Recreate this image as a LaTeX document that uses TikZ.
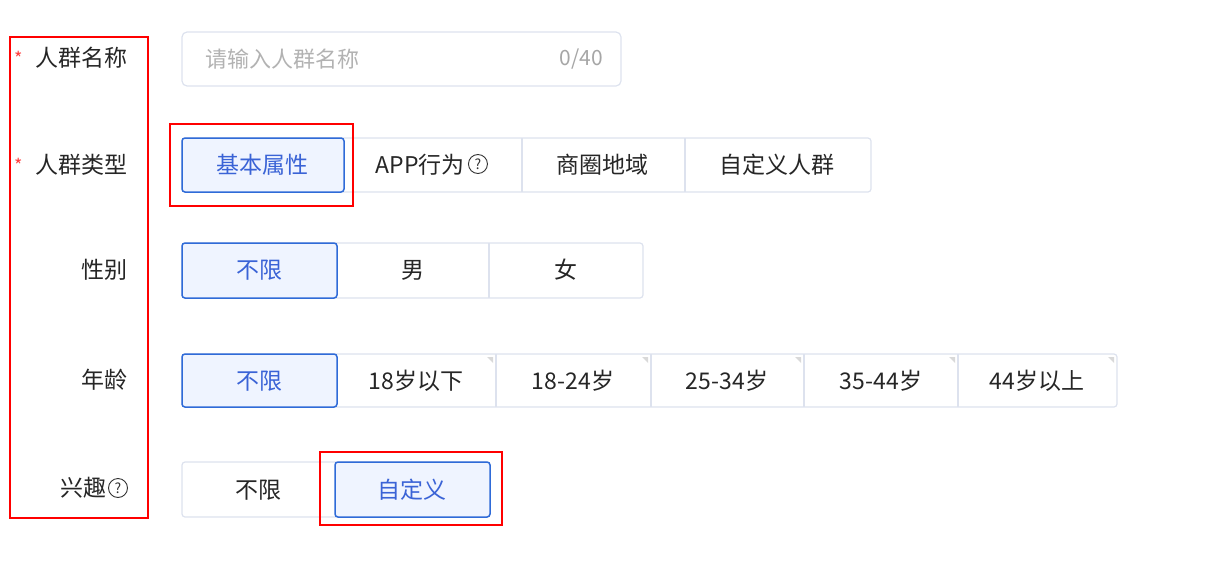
\documentclass[tikz,border=0pt]{standalone}
\usepackage{fontspec}
\setmainfont{Noto Sans CJK SC}
\definecolor{selb}{HTML}{2F6BD8}
\definecolor{selt}{HTML}{3A63D6}
\definecolor{self}{HTML}{EFF4FF}
\definecolor{bord}{HTML}{DDE2EE}
\begin{document}
\begin{tikzpicture}[x=1pt,y=-1pt,
  lab/.style={anchor=east,font=\fontsize{23}{24}\selectfont,text=black!85,inner sep=0pt},
  btn/.style={draw=bord,line width=1.2pt,fill=white},
  sel/.style={draw=selb,line width=1.5pt,fill=self,rounded corners=3pt},
  bt/.style={font=\fontsize{23}{24}\selectfont,text=black!85},
  st/.style={font=\fontsize{23}{24}\selectfont,text=selt},
  hl/.style={draw=red,line width=2.5pt},
  q/.style={circle,draw=black!80,line width=0.9pt,inner sep=0pt,minimum size=19pt,font=\fontsize{14}{14}\selectfont,text=black!80},
  tri/.style={fill=gray!30}]
\useasboundingbox (0,0) rectangle (1213,562);
% left labels
\node[lab] (l1) at (128,58) {人群名称};
\node[lab] (l2) at (128,165) {人群类型};
\node[lab] (l3) at (128,270) {性别};
\node[lab] (l4) at (128,380) {年龄};
\node[q] (q2) at (118,488) {?};
\node[lab] (l5) at ([xshift=-1pt]q2.west) {兴趣};
\node[text=red!75,font=\fontsize{18}{18}\selectfont] (s1) at (19,58) {*};
\node[text=red!75,font=\fontsize{18}{18}\selectfont] (s2) at (19,165) {*};
% input
\draw[draw=bord,line width=1.2pt,rounded corners=5pt] (182,32) rectangle (621,86);
\node[anchor=west,font=\fontsize{22}{24}\selectfont,text=gray!60,inner sep=0pt] (ph) at (205,59) {请输入人群名称};
\node[anchor=east,font=\fontsize{21}{24}\selectfont,text=gray!70,inner sep=0pt] (cnt) at (603,59) {0/40};
% type row
\draw[btn,rounded corners=3pt] (182,138) rectangle (871,192);
\foreach \x in {522,685} \draw[bord,line width=1.2pt] (\x,138) -- (\x,192);
\draw[sel] (182,138) rectangle (344,192);
\node[st] (t1) at (262,165) {基本属性};
\node[bt,anchor=east,inner sep=0pt] (t2) at (465,165) {APP行为};
\node[q,anchor=west] (q1) at (468,164) {?};
\node[bt] (t3) at (602,165) {商圈地域};
\node[bt] (t4) at (777,165) {自定义人群};
% gender
\draw[btn,rounded corners=3pt] (182,243) rectangle (643,298);
\draw[bord,line width=1.2pt] (489,243) -- (489,298);
\draw[sel] (182,243) rectangle (337,298);
\node[st] (g1) at (259,270) {不限};
\node[bt] (g2) at (413,270) {男};
\node[bt] (g3) at (566,270) {女};
% age
\draw[btn,rounded corners=3pt] (182,354) rectangle (1117,407);
\foreach \x in {496,651,804,958} \draw[bord,line width=1.2pt] (\x,354) -- (\x,407);
\foreach \x in {496,651,804,958,1117} \fill[tri] (\x-3,357) -- (\x-9,357) -- (\x-3,363) -- cycle;
\draw[sel] (182,354) rectangle (337,407);
\node[st] (a1) at (259,381) {不限};
\node[bt] (a2) at (416,381) {18岁以下};
\node[bt] (a3) at (573,381) {18-24岁};
\node[bt] (a4) at (727,381) {25-34岁};
\node[bt] (a5) at (881,381) {35-44岁};
\node[bt] (a6) at (1037,381) {44岁以上};
% interest
\draw[btn,rounded corners=3pt] (182,462) rectangle (490,517);
\draw[sel] (335,462) rectangle (490,517);
\node[bt] (i1) at (258,490) {不限};
\node[st] (i2) at (412,490) {自定义};
% red highlights
\draw[hl] (10,37) rectangle (148,518);
\draw[hl] (170,124) rectangle (353,206);
\draw[hl] (320,452) rectangle (502,525);
\end{tikzpicture}
\end{document}
